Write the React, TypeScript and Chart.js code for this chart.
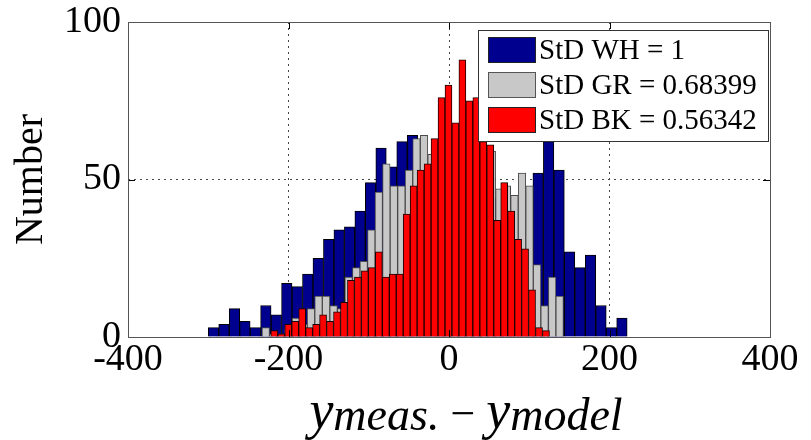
import React, { useEffect, useRef } from 'react';
import { Chart, registerables } from 'chart.js';

Chart.register(...registerables);

const X_TICK_VALUES = [-400, -200, 0, 200, 400];
const Y_TICK_VALUES = [0, 50, 100];
const X_GRID_VALUES = [-200, 0, 200];
const Y_GRID_VALUES = [50];

const WH_BIN_START = -300;
const WH_BIN_WIDTH = 13.05;
const WH_COUNTS = [3, 4, 9, 5, 3, 10, 7, 17, 16, 20, 25, 31, 34, 35, 40, 49, 60, 54, 62, 64, 58, 50, 55, 60, 58, 55, 52, 44, 42, 40, 45, 52, 62, 53, 27, 22, 26, 10, 3, 6];

const GR_BIN_START = -233;
const GR_BIN_WIDTH = 9.39;
const GR_COUNTS = [3, 1, 1, 3, 6, 4, 9, 13, 13, 10, 9, 19, 22, 24, 34, 46, 55, 48, 48, 53, 63, 64, 58, 60, 62, 60, 58, 60, 58, 57, 59, 47, 48, 45, 52, 48, 23, 10, 19, 13];

const BK_BIN_START = -222;
const BK_BIN_WIDTH = 8.68;
const BK_COUNTS = [2, 1, 4, 5, 9, 3, 4, 7, 5, 8, 11, 18, 19, 21, 22, 27, 19, 20, 20, 39, 48, 53, 55, 63, 76, 80, 68, 88, 75, 76, 62, 61, 37, 49, 40, 31, 28, 15, 3, 2];

const SERIES_LABELS = ['StD WH = 1', 'StD GR = 0.68399', 'StD BK = 0.56342'];
const SERIES_COLORS = ['#00008f', '#c8c8c8', '#ff0000'];
const SERIES_EDGES = ['#000000', '#4a4a4a', '#1a0000'];

const Y_TITLE = 'Number';
const X_TITLE_PARTS = [
  { text: 'y', sub: false },
  { text: 'meas.', sub: true },
  { text: ' \u2212 ', sub: false, upright: true },
  { text: 'y', sub: false },
  { text: 'model', sub: true },
];

const SERIF = '"Liberation Serif", "Times New Roman", serif';

const toPoints = (start: number, width: number, counts: number[]) =>
  counts.map((c, i) => ({ x: start + width * (i + 0.5), y: c }));

const framePlugin = {
  id: 'matlabFrame',
  afterDatasetsDraw(chart: any) {
    const { ctx, chartArea: a, scales } = chart;
    ctx.save();
    ctx.strokeStyle = '#000';
    ctx.lineWidth = 1;
    const tl = 7;
    X_GRID_VALUES.forEach((v) => {
      const px = Math.round(scales.x.getPixelForValue(v)) + 0.5;
      ctx.beginPath();
      ctx.moveTo(px, a.bottom);
      ctx.lineTo(px, a.bottom - tl);
      ctx.moveTo(px, a.top);
      ctx.lineTo(px, a.top + tl);
      ctx.stroke();
    });
    Y_GRID_VALUES.forEach((v) => {
      const py = Math.round(scales.y.getPixelForValue(v)) + 0.5;
      ctx.beginPath();
      ctx.moveTo(a.left, py);
      ctx.lineTo(a.left + tl, py);
      ctx.moveTo(a.right, py);
      ctx.lineTo(a.right - tl, py);
      ctx.stroke();
    });
    ctx.strokeStyle = '#555';
    ctx.strokeRect(Math.round(a.left) + 0.5, Math.round(a.top) + 0.5, Math.round(a.right - a.left), Math.round(a.bottom - a.top));
    ctx.restore();
  },
};

const legendPlugin = {
  id: 'boxLegend',
  afterDraw(chart: any) {
    const { ctx, chartArea: a } = chart;
    const w = 290;
    const h = 111;
    const x = a.right - 292;
    const y = a.top + 8;
    ctx.save();
    ctx.fillStyle = '#fff';
    ctx.fillRect(x, y, w, h);
    ctx.strokeStyle = '#333';
    ctx.lineWidth = 1;
    ctx.strokeRect(Math.round(x) + 0.5, Math.round(y) + 0.5, w, h);
    ctx.font = `29px ${SERIF}`;
    ctx.textBaseline = 'middle';
    ctx.textAlign = 'left';
    chart.data.datasets.forEach((ds: any, i: number) => {
      const by = y + 7 + i * 35;
      ctx.fillStyle = ds.backgroundColor;
      ctx.fillRect(x + 10, by, 48, 26);
      ctx.strokeStyle = i === 1 ? '#555' : '#222';
      ctx.strokeRect(x + 10.5, by + 0.5, 47, 25);
      ctx.fillStyle = '#000';
      ctx.fillText(ds.label, x + 61, by + 14);
    });
    ctx.restore();
  },
};

const xTitlePlugin = {
  id: 'xTitle',
  afterDraw(chart: any) {
    const { ctx } = chart;
    ctx.save();
    ctx.fillStyle = '#000';
    ctx.textBaseline = 'alphabetic';
    ctx.textAlign = 'left';
    const fontFor = (p: any) =>
      p.upright ? `44px ${SERIF}` : p.sub ? `italic 46px ${SERIF}` : `italic 54px ${SERIF}`;
    let total = 0;
    X_TITLE_PARTS.forEach((p) => {
      ctx.font = fontFor(p);
      total += ctx.measureText(p.text).width;
    });
    let cx = 466 - total / 2;
    X_TITLE_PARTS.forEach((p) => {
      ctx.font = fontFor(p);
      ctx.fillText(p.text, cx, p.sub ? 430 : 428);
      cx += ctx.measureText(p.text).width;
    });
    ctx.restore();
  },
};

export default function App() {
  const ref = useRef<HTMLCanvasElement | null>(null);

  useEffect(() => {
    if (!ref.current) return;
    const tickFont = { family: SERIF, size: 38, lineHeight: 1.2 };
    const chart = new Chart(ref.current, {
      type: 'bar',
      data: {
        datasets: [
          {
            label: SERIES_LABELS[0],
            data: toPoints(WH_BIN_START, WH_BIN_WIDTH, WH_COUNTS),
            xAxisID: 'x',
            order: 3,
            backgroundColor: SERIES_COLORS[0],
            borderColor: SERIES_EDGES[0],
            borderWidth: 1,
            barPercentage: 1,
            categoryPercentage: 1,
            grouped: false,
          },
          {
            label: SERIES_LABELS[1],
            data: toPoints(GR_BIN_START, GR_BIN_WIDTH, GR_COUNTS),
            xAxisID: 'x2',
            order: 2,
            backgroundColor: SERIES_COLORS[1],
            borderColor: SERIES_EDGES[1],
            borderWidth: 1,
            barPercentage: 1,
            categoryPercentage: 1,
            grouped: false,
          },
          {
            label: SERIES_LABELS[2],
            data: toPoints(BK_BIN_START, BK_BIN_WIDTH, BK_COUNTS),
            xAxisID: 'x3',
            order: 1,
            backgroundColor: SERIES_COLORS[2],
            borderColor: SERIES_EDGES[2],
            borderWidth: 1,
            barPercentage: 1,
            categoryPercentage: 1,
            grouped: false,
          },
        ],
      },
      options: {
        responsive: false,
        animation: false,
        layout: { padding: { left: 0, top: 0, right: 41, bottom: 0 } },
        plugins: { legend: { display: false }, tooltip: { enabled: false } },
        scales: {
          x: {
            type: 'linear',
            min: -400,
            max: 400,
            offset: false,
            afterBuildTicks: (s: any) => {
              s.ticks = X_TICK_VALUES.map((v) => ({ value: v }));
            },
            afterFit: (s: any) => {
              s.height = 103;
              s.paddingLeft = 0;
              s.paddingRight = 0;
            },
            ticks: { font: tickFont, color: '#000', padding: 0, maxRotation: 0, autoSkip: false },
            grid: {
              offset: false,
              drawTicks: false,
              lineWidth: 1,
              color: (c: any) => (c.tick && X_GRID_VALUES.includes(c.tick.value) ? '#444' : 'rgba(0,0,0,0)'),
            },
            border: { display: false, dash: [2, 4] },
          },
          x2: { type: 'linear', min: -400, max: 400, offset: false, display: false, grid: { offset: false } },
          x3: { type: 'linear', min: -400, max: 400, offset: false, display: false, grid: { offset: false } },
          y: {
            type: 'linear',
            min: 0,
            max: 100,
            afterBuildTicks: (s: any) => {
              s.ticks = Y_TICK_VALUES.map((v) => ({ value: v }));
            },
            afterFit: (s: any) => {
              s.width = 128;
              s.paddingTop = 22;
              s.paddingBottom = 0;
            },
            ticks: { font: tickFont, color: '#000', padding: 7 },
            grid: {
              drawTicks: false,
              lineWidth: 1,
              color: (c: any) => (c.tick && Y_GRID_VALUES.includes(c.tick.value) ? '#444' : 'rgba(0,0,0,0)'),
            },
            border: { display: false, dash: [2, 4] },
            title: {
              display: true,
              text: Y_TITLE,
              color: '#000',
              font: { family: SERIF, size: 40, lineHeight: 1.2 },
              padding: { top: 7, bottom: 0 },
            },
          },
        },
      },
      plugins: [framePlugin, legendPlugin, xTitlePlugin],
    } as any);
    return () => chart.destroy();
  }, []);

  return (
    <div style={{ position: 'absolute', left: 0, top: 0, width: 811, height: 440, background: '#fff' }}>
      <canvas ref={ref} width={811} height={440} style={{ display: 'block' }} />
    </div>
  );
}
